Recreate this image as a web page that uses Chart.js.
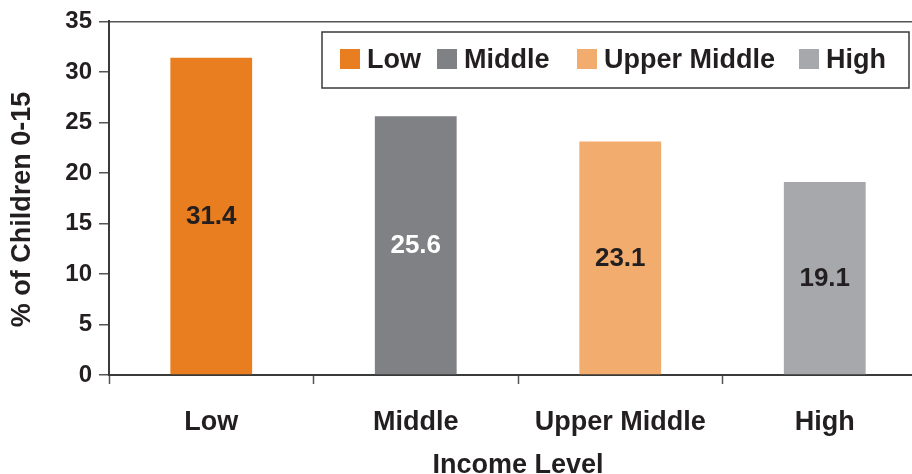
<!DOCTYPE html>
<html>
<head>
<meta charset="utf-8">
<script src="https://cdn.jsdelivr.net/npm/chart.js@4.4.1/dist/chart.umd.min.js"></script>
<style>
  html, body { margin: 0; padding: 0; background: #fff; }
  #wrap { width: 912px; height: 474px; overflow: hidden; position: relative; }
  canvas { display: block; }
</style>
</head>
<body>
<div id="wrap"><canvas id="chart" width="930" height="474"></canvas></div>
<script>
// data
const categories = ['Low', 'Middle', 'Upper Middle', 'High'];
const values = [31.4, 25.6, 23.1, 19.1];
const yTicks = [0, 5, 10, 15, 20, 25, 30, 35];

const barColors = ['#E87E1F', '#808184', '#F2AC6E', '#A7A8AC'];
const valueColors = ['#231F20', '#FFFFFF', '#231F20', '#231F20'];
const textColor = '#231F20';
const fontFamily = '"Liberation Sans", Arial, Helvetica, sans-serif';

// numbers written in the middle of every bar
const valueLabels = {
    id: 'valueLabels',
    afterDatasetsDraw(chart) {
        const ctx = chart.ctx;
        const meta = chart.getDatasetMeta(0);
        ctx.save();
        ctx.font = 'bold 26px ' + fontFamily;
        ctx.textAlign = 'center';
        ctx.textBaseline = 'middle';
        meta.data.forEach((bar, i) => {
            ctx.fillStyle = valueColors[i];
            ctx.fillText(values[i].toFixed(1), bar.x, (bar.y + bar.base) / 2 + 1);
        });
        ctx.restore();
    }
};

// boxed legend in the top right corner
const boxLegend = {
    id: 'boxLegend',
    afterDraw(chart) {
        const ctx = chart.ctx;
        const itemX = [340, 437, 577, 799];
        ctx.save();
        ctx.fillStyle = '#fff';
        ctx.fillRect(322, 32, 587, 56);
        ctx.strokeStyle = '#3a3a3a';
        ctx.lineWidth = 1.5;
        ctx.strokeRect(322, 32, 587, 56);
        ctx.font = 'bold 27px ' + fontFamily;
        ctx.textBaseline = 'middle';
        ctx.textAlign = 'left';
        categories.forEach((name, i) => {
            ctx.fillStyle = barColors[i];
            ctx.fillRect(itemX[i], 49, 20, 20);
            ctx.fillStyle = textColor;
            ctx.fillText(name, itemX[i] + 27, 61);
        });
        ctx.restore();
    }
};

new Chart(document.getElementById('chart'), {
    type: 'bar',
    data: {
        labels: categories,
        datasets: [{
            data: values,
            backgroundColor: barColors,
            borderWidth: 0,
            categoryPercentage: 1.0,
            barPercentage: 0.4
        }]
    },
    options: {
        responsive: false,
        animation: false,
        devicePixelRatio: 1,
        layout: { padding: { top: 18, right: 3, left: 0, bottom: 0 } },
        plugins: {
            legend: { display: false },
            tooltip: { enabled: false }
        },
        scales: {
            x: {
                afterFit(scale) { scale.height = 99; },
                grid: {
                    offset: true,
                    drawOnChartArea: false,
                    tickLength: 9,
                    tickColor: '#555',
                    tickWidth: 1.5
                },
                border: { color: '#3a3a3a', width: 2 },
                ticks: {
                    color: textColor,
                    padding: 22,
                    font: { family: fontFamily, size: 27, weight: 'bold' }
                },
                title: {
                    display: true,
                    text: 'Income Level',
                    color: textColor,
                    font: { family: fontFamily, size: 27, weight: 'bold', lineHeight: 1 },
                    padding: { top: 0, bottom: -5 }
                }
            },
            y: {
                min: 0,
                max: 35,
                afterFit(scale) { scale.width = 109; },
                afterBuildTicks(scale) { scale.ticks = yTicks.map(v => ({ value: v })); },
                grid: {
                    drawOnChartArea: true,
                    color: c => (c.tick && c.tick.value === 35) ? '#555' : 'rgba(0,0,0,0)',
                    tickColor: '#555',
                    tickLength: 10,
                    tickWidth: 1.5,
                    lineWidth: 1.5
                },
                border: { color: '#3a3a3a', width: 2 },
                ticks: {
                    color: textColor,
                    padding: 7,
                    font: { family: fontFamily, size: 24, weight: 'bold' }
                },
                title: {
                    display: true,
                    // trailing spaces push the title a little below the plot's centre, as in the original
                    text: '% of Children 0-15   ',
                    color: textColor,
                    font: { family: fontFamily, size: 27, weight: 'bold', lineHeight: 1 },
                    padding: { top: 9, bottom: 0 }
                }
            }
        }
    },
    plugins: [valueLabels, boxLegend]
});
</script>
</body>
</html>
